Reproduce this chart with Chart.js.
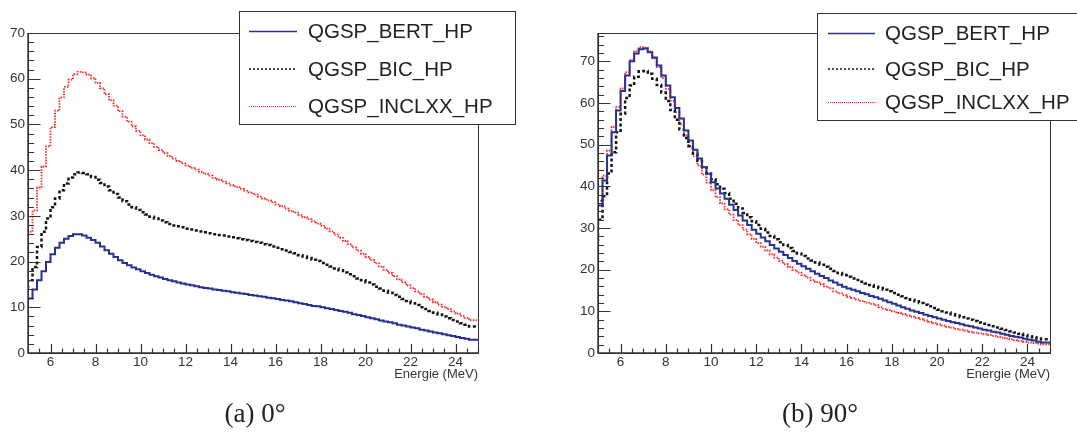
<!DOCTYPE html>
<html>
<head>
<meta charset="utf-8">
<script src="https://cdn.jsdelivr.net/npm/chart.js@4.4.1/dist/chart.umd.min.js"></script>
<style>
  html, body { margin: 0; padding: 0; background: #fff; }
  body { width: 1077px; height: 438px; position: relative; overflow: hidden; }
  canvas { position: absolute; top: 0; }
  #c0 { left: 0; }
  #c1 { left: 545px; }
  .cap { position: absolute; top: 400px; font-family: "Liberation Serif", serif; font-size: 27px; line-height: 27px; color: #222; transform: translateX(-50%); white-space: nowrap; }
</style>
</head>
<body>
<canvas id="c0" width="545" height="438"></canvas>
<canvas id="c1" width="532" height="438"></canvas>
<div class="cap" style="left:255px">(a) 0°</div>
<div class="cap" style="left:820px">(b) 90°</div>
<script>
// histogrammes : 100 bins de 0.2 MeV entre 5 et 25 MeV
const binStart = 5;
const binWidth = 0.2;
const seriesNames = ['QGSP_BERT_HP', 'QGSP_BIC_HP', 'QGSP_INCLXX_HP'];
const xTicks = [6, 8, 10, 12, 14, 16, 18, 20, 22, 24];
const yTicks = [0, 10, 20, 30, 40, 50, 60, 70];
const xTitle = 'Energie (MeV)';

// (a) 0°
const bert0 = [
  9.9, 11.9, 13.9, 15.9, 17.9, 19.9, 21.6, 23.0, 24.1, 25.0,
  25.6, 26.0, 26.0, 25.7, 25.2, 24.7, 24.1, 23.3, 22.5, 21.7,
  21.0, 20.3, 19.7, 19.2, 18.7, 18.3, 17.9, 17.5, 17.1, 16.8,
  16.5, 16.2, 15.9, 15.7, 15.4, 15.2, 15.0, 14.8, 14.6, 14.4,
  14.2, 14.1, 13.9, 13.8, 13.6, 13.5, 13.3, 13.2, 13.0, 12.9,
  12.7, 12.6, 12.4, 12.3, 12.1, 12.0, 11.8, 11.6, 11.5, 11.3,
  11.1, 10.9, 10.7, 10.5, 10.3, 10.2, 10.0, 9.8, 9.6, 9.4,
  9.2, 9.0, 8.8, 8.5, 8.3, 8.1, 7.8, 7.6, 7.4, 7.1,
  6.9, 6.7, 6.5, 6.2, 6.0, 5.8, 5.6, 5.4, 5.1, 4.9,
  4.7, 4.5, 4.3, 4.1, 3.9, 3.7, 3.5, 3.3, 3.1, 2.9
];
const bic0 = [
  14.1, 15.9, 18.8, 23.2, 26.5, 29.4, 31.9, 33.8, 35.6, 37.1,
  38.4, 39.1, 39.5, 39.4, 39.1, 38.5, 37.9, 37.2, 36.4, 35.6,
  34.8, 34.0, 33.2, 32.5, 31.9, 31.3, 30.8, 30.3, 29.8, 29.4,
  29.0, 28.6, 28.2, 27.9, 27.7, 27.5, 27.2, 27.0, 26.8, 26.6,
  26.4, 26.2, 26.0, 25.8, 25.7, 25.5, 25.3, 25.1, 24.9, 24.7,
  24.5, 24.3, 24.1, 23.8, 23.6, 23.3, 23.0, 22.7, 22.4, 22.1,
  21.8, 21.4, 21.1, 20.8, 20.4, 20.1, 19.7, 19.3, 18.9, 18.5,
  18.1, 17.6, 17.2, 16.8, 16.3, 15.9, 15.4, 15.0, 14.5, 14.1,
  13.6, 13.2, 12.7, 12.3, 11.8, 11.4, 10.9, 10.5, 10.0, 9.6,
  9.2, 8.8, 8.4, 8.0, 7.6, 7.2, 6.9, 6.5, 6.2, 5.8
];
const inclxx0 = [
  22.0, 26.5, 31.2, 36.2, 40.8, 45.2, 49.4, 53.0, 55.9, 58.2,
  59.8, 61.0, 61.5, 61.4, 60.9, 60.1, 59.1, 57.9, 56.6, 55.3,
  54.1, 52.9, 51.7, 50.6, 49.6, 48.6, 47.6, 46.7, 45.9, 45.1,
  44.4, 43.7, 43.1, 42.5, 42.0, 41.5, 41.0, 40.5, 40.1, 39.6,
  39.2, 38.8, 38.3, 37.9, 37.5, 37.1, 36.7, 36.3, 35.9, 35.5,
  35.1, 34.7, 34.2, 33.8, 33.4, 33.0, 32.5, 32.1, 31.6, 31.1,
  30.7, 30.2, 29.7, 29.3, 28.8, 28.3, 27.8, 27.2, 26.6, 25.9,
  25.2, 24.5, 23.8, 23.1, 22.4, 21.7, 21.0, 20.3, 19.6, 18.9,
  18.2, 17.5, 16.8, 16.1, 15.5, 14.8, 14.2, 13.5, 12.9, 12.3,
  11.7, 11.1, 10.6, 10.1, 9.6, 9.1, 8.6, 8.1, 7.7, 7.2
];

// (b) 90°
const bert90 = [
  29.9, 35.4, 41.4, 47.4, 53.0, 58.2, 62.9, 66.6, 70.0, 71.9,
  72.9, 73.1, 72.2, 70.9, 69.0, 66.6, 64.2, 61.4, 58.8, 56.3,
  53.4, 51.0, 48.8, 46.7, 44.6, 43.0, 41.0, 39.5, 38.3, 37.0,
  35.6, 34.3, 33.0, 31.8, 30.7, 29.6, 28.6, 27.7, 26.8, 25.9,
  25.1, 24.3, 23.5, 22.8, 22.1, 21.4, 20.8, 20.2, 19.6, 19.0,
  18.5, 18.0, 17.4, 16.9, 16.4, 15.9, 15.5, 15.2, 14.8, 14.4,
  14.1, 13.7, 13.4, 13.0, 12.6, 12.2, 11.8, 11.4, 11.0, 10.6,
  10.2, 9.9, 9.6, 9.2, 8.9, 8.6, 8.3, 8.0, 7.7, 7.4,
  7.2, 6.9, 6.6, 6.4, 6.1, 5.9, 5.6, 5.4, 5.1, 4.9,
  4.6, 4.4, 4.1, 3.9, 3.7, 3.4, 3.2, 3.0, 2.7, 2.5
];
const bic90 = [
  26.8, 32.0, 37.6, 43.1, 48.2, 53.0, 57.4, 61.2, 64.2, 66.3,
  67.6, 67.7, 67.0, 65.8, 64.3, 62.5, 60.5, 58.3, 56.0, 53.7,
  51.6, 49.6, 47.8, 46.1, 44.6, 43.1, 41.7, 40.5, 39.4, 38.4,
  37.0, 35.8, 34.7, 33.6, 32.6, 31.6, 30.7, 29.8, 28.9, 28.1,
  27.3, 26.6, 25.9, 25.2, 24.5, 23.9, 23.3, 22.7, 22.2, 21.7,
  21.2, 20.7, 20.2, 19.7, 19.2, 18.7, 18.3, 17.9, 17.5, 17.1,
  16.7, 16.3, 15.9, 15.6, 15.2, 14.8, 14.4, 14.0, 13.6, 13.2,
  12.8, 12.4, 12.0, 11.6, 11.2, 10.8, 10.4, 10.0, 9.7, 9.3,
  9.0, 8.6, 8.3, 8.0, 7.7, 7.3, 7.0, 6.7, 6.4, 6.1,
  5.8, 5.5, 5.2, 4.9, 4.6, 4.3, 4.0, 3.8, 3.5, 3.3
];
const inclxx90 = [
  31.0, 36.5, 42.6, 48.6, 54.3, 59.0, 63.5, 67.4, 70.4, 72.4,
  73.4, 73.3, 72.4, 70.7, 68.6, 66.0, 63.4, 60.5, 57.8, 54.9,
  52.2, 49.7, 47.2, 45.0, 42.8, 40.9, 39.1, 37.4, 35.9, 34.5,
  33.2, 31.9, 30.7, 29.6, 28.5, 27.4, 26.4, 25.5, 24.6, 23.7,
  22.9, 22.1, 21.3, 20.6, 19.9, 19.3, 18.7, 18.1, 17.5, 17.0,
  16.5, 16.0, 15.5, 14.8, 14.3, 13.9, 13.5, 13.2, 12.8, 12.5,
  12.1, 11.8, 11.5, 11.0, 10.6, 10.3, 10.0, 9.6, 9.3, 9.0,
  8.7, 8.4, 8.1, 7.8, 7.5, 7.2, 6.9, 6.6, 6.3, 6.1,
  5.8, 5.6, 5.4, 5.1, 4.9, 4.7, 4.5, 4.3, 4.1, 3.9,
  3.7, 3.5, 3.3, 3.1, 2.9, 2.7, 2.5, 2.4, 2.2, 2.1
];

// bords des bins -> points pour une ligne en escalier
function histPoints(values) {
  const pts = values.map((v, i) => ({ x: +(binStart + i * binWidth).toFixed(2), y: v }));
  pts.push({ x: +(binStart + values.length * binWidth).toFixed(2), y: values[values.length - 1] });
  return pts;
}

const styles = [
  { borderColor: '#27318f', borderWidth: 2, borderDash: [] },
  { borderColor: '#151515', borderWidth: 2.5, borderDash: [3, 2.5] },
  { borderColor: '#ff2626', borderWidth: 1.8, borderDash: [1.5, 1.3] }
];
const legendStyles = [
  { color: '#27318f', width: 1.4, dash: [] },
  { color: '#151515', width: 1.6, dash: [2, 2] },
  { color: '#ff1f1f', width: 1.2, dash: [1, 1] }
];

// cadre + graduations vers l'intérieur (style ROOT)
const rootAxes = {
  id: 'rootAxes',
  afterDatasetsDraw(chart, args, opts) {
    const ctx = chart.ctx;
    const a = chart.chartArea;
    const xs = chart.scales.x, ys = chart.scales.y;
    ctx.save();
    ctx.strokeStyle = '#333';
    ctx.lineWidth = 1;
    ctx.strokeRect(Math.round(a.left) + 0.5, Math.round(a.top) + 0.5,
      Math.round(a.right - a.left), Math.round(a.bottom - a.top));
    ctx.lineWidth = 1.4;
    ctx.beginPath();
    ctx.moveTo(a.left, a.top); ctx.lineTo(a.left, a.bottom); ctx.lineTo(a.right, a.bottom);
    ctx.stroke();
    ctx.lineWidth = 1.2;
    ctx.beginPath();
    for (let v = xs.min; v <= xs.max + 1e-6; v += 0.5) {
      const px = Math.round(xs.getPixelForValue(v)) + 0.5;
      const len = xTicks.includes(Math.round(v * 10) / 10) ? 9 : 4.5;
      ctx.moveTo(px, a.bottom); ctx.lineTo(px, a.bottom - len);
    }
    for (let v = 0; v <= ys.max + 1e-6; v += 2) {
      const py = Math.round(ys.getPixelForValue(v)) + 0.5;
      const len = yTicks.includes(v) ? 12.5 : 6;
      ctx.moveTo(a.left, py); ctx.lineTo(a.left + len, py);
    }
    ctx.stroke();
    ctx.fillStyle = '#333';
    ctx.font = '13px "Liberation Sans", Arial, sans-serif';
    ctx.textAlign = 'right';
    ctx.textBaseline = 'middle';
    ctx.fillText(xTitle, a.right, a.bottom + 21);
    ctx.restore();
  },
  afterDraw(chart, args, opts) {
    const b = opts.box;
    if (!b) return;
    const ctx = chart.ctx;
    ctx.save();
    ctx.fillStyle = '#fff';
    ctx.fillRect(b.x, b.y, b.w, b.h);
    ctx.strokeStyle = '#333';
    ctx.lineWidth = 1;
    ctx.strokeRect(b.x + 0.5, b.y + 0.5, b.w, b.h);
    ctx.font = '20.5px "Liberation Sans", Arial, sans-serif';
    ctx.textBaseline = 'middle';
    ctx.textAlign = 'left';
    seriesNames.forEach((name, i) => {
      const y = b.rows[i];
      const st = legendStyles[i];
      ctx.strokeStyle = st.color;
      ctx.lineWidth = st.width;
      ctx.setLineDash(st.dash);
      ctx.beginPath();
      ctx.moveTo(b.lineX0, y); ctx.lineTo(b.lineX1, y);
      ctx.stroke();
      ctx.setLineDash([]);
      ctx.fillStyle = '#222';
      ctx.fillText(name, b.textX, y + 1);
    });
    ctx.restore();
  }
};

function makeChart(id, data, yMax, leftWidth, padRight, box) {
  const datasets = data.map((vals, i) => ({
    label: seriesNames[i],
    data: histPoints(vals),
    stepped: 'after',
    pointRadius: 0,
    fill: false,
    borderColor: styles[i].borderColor,
    borderWidth: styles[i].borderWidth,
    borderDash: styles[i].borderDash
  }));
  return new Chart(document.getElementById(id), {
    type: 'line',
    data: { datasets },
    options: {
      responsive: false,
      animation: false,
      devicePixelRatio: 1,
      layout: { padding: { top: 33, right: padRight, left: 0, bottom: 0 } },
      plugins: { legend: { display: false }, tooltip: { enabled: false }, rootAxes: { box } },
      scales: {
        x: {
          type: 'linear', min: 5, max: 25,
          grid: { display: false, drawTicks: false },
          border: { display: false },
          afterBuildTicks: s => { s.ticks = xTicks.map(v => ({ value: v })); },
          afterFit: s => { s.height = 85; },
          ticks: { autoSkip: false, maxRotation: 0, padding: 1, color: '#333',
                   font: { family: '"Liberation Sans", Arial, sans-serif', size: 13.5 } }
        },
        y: {
          type: 'linear', min: 0, max: yMax,
          grid: { display: false, drawTicks: false },
          border: { display: false },
          afterBuildTicks: s => { s.ticks = yTicks.map(v => ({ value: v })); },
          afterFit: s => { s.width = leftWidth; },
          ticks: { autoSkip: false, padding: 3, color: '#333',
                   font: { family: '"Liberation Sans", Arial, sans-serif', size: 13.5 } }
        }
      }
    },
    plugins: [rootAxes]
  });
}

document.addEventListener('DOMContentLoaded', function() {
  makeChart('c0', [bert0, bic0, inclxx0], 70, 28, 67,
    { x: 239, y: 11, w: 276, h: 113, rows: [31.5, 69, 106.5], lineX0: 249, lineX1: 297, textX: 308 });
  makeChart('c1', [bert90, bic90, inclxx90], 76.8, 53, 27,
    { x: 272, y: 13, w: 280, h: 107, rows: [33.5, 69, 102.5], lineX0: 283, lineX1: 330, textX: 340 });
});
</script>
</body>
</html>
